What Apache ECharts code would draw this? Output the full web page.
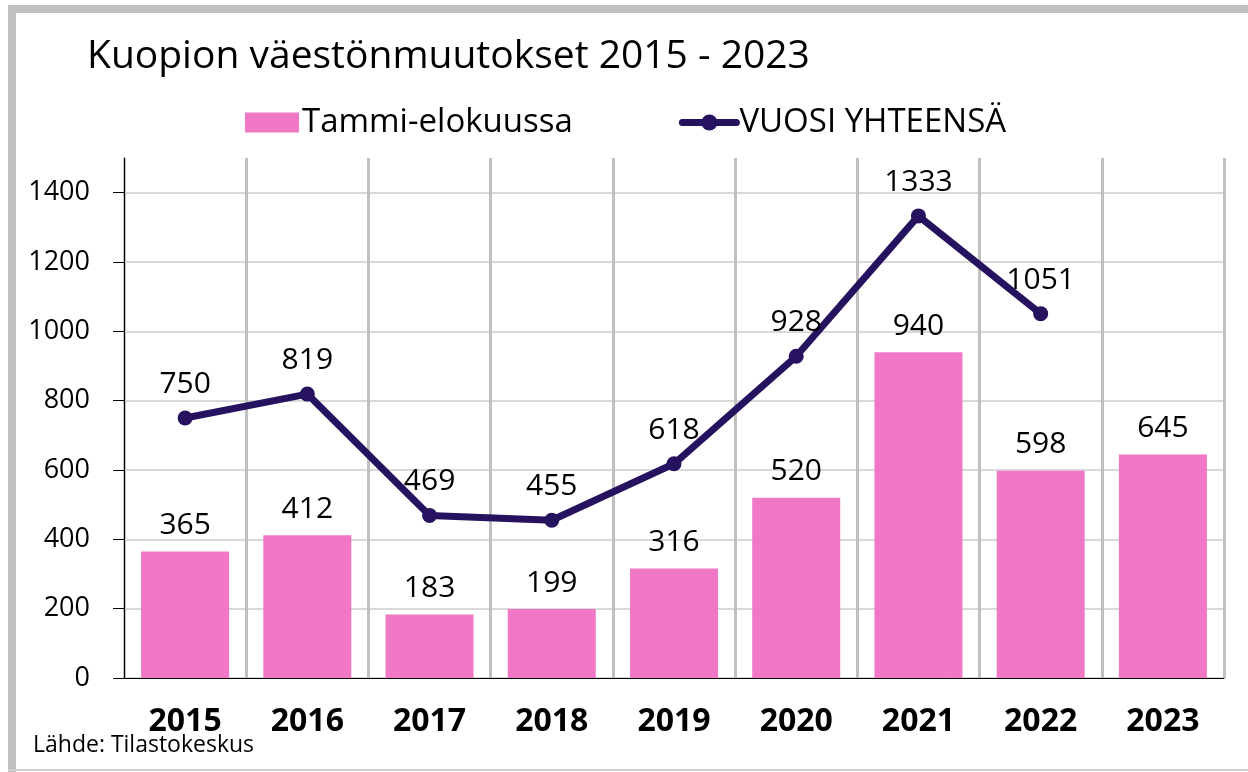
<!DOCTYPE html>
<html>
<head>
<meta charset="utf-8">
<title>Kuopion väestönmuutokset 2015 - 2023</title>
<script src="https://cdn.jsdelivr.net/npm/echarts@6/dist/echarts.min.js"></script>
<style>
  html, body { margin: 0; padding: 0; background: #fff; }
  #chart { width: 1248px; height: 772px; }
</style>
</head>
<body>
<div id="chart"></div>
<script>
// data
const years = ['2015', '2016', '2017', '2018', '2019', '2020', '2021', '2022', '2023'];
const tammiElokuu = [365, 412, 183, 199, 316, 520, 940, 598, 645];
const vuosiYhteensa = [750, 819, 469, 455, 618, 928, 1333, 1051, null];
const yTicks = [0, 200, 400, 600, 800, 1000, 1200, 1400];

const font = '"Open Sans", "Noto Sans", sans-serif';
const pink = '#f178c6';
const purple = '#26125f';

var chart = echarts.init(document.getElementById('chart'));

const option = {
  animation: false,
  textStyle: { fontFamily: font, color: '#000' },
  title: {
    text: 'Kuopion väestönmuutokset 2015 - 2023',
    left: 82,
    top: 32,
    textStyle: { fontFamily: font, fontSize: 39, fontWeight: 'normal', color: '#000' }
  },
  legend: {
    left: 240,
    top: 101,
    itemWidth: 54,
    itemHeight: 20,
    itemGap: 106,
    textStyle: { fontFamily: font, fontSize: 33, color: '#000', padding: [0, 0, 0, -2] },
    data: [
      { name: 'Tammi-elokuussa', icon: 'rect' },
      { name: 'VUOSI YHTEENSÄ', lineStyle: { width: 7, cap: 'round', color: purple } }
    ]
  },
  grid: { left: 124, right: 24, top: 158, bottom: 94 },
  xAxis: {
    type: 'category',
    data: years,
    axisLine: { lineStyle: { color: '#000', width: 1 } },
    axisTick: { show: false },
    splitLine: { show: true, lineStyle: { color: '#c0c0c0', width: 3 } },
    axisLabel: { fontFamily: font, fontSize: 32, fontWeight: 'bold', color: '#000', margin: 28 }
  },
  yAxis: {
    type: 'value',
    min: yTicks[0],
    max: 1500,
    interval: 200,
    axisLine: { show: true, lineStyle: { color: '#000', width: 1 } },
    axisTick: { show: true, length: 11, lineStyle: { color: '#000' } },
    axisLabel: {
      fontFamily: font, fontSize: 27, color: '#000', margin: 34, showMaxLabel: false,
      formatter: function (v) { return yTicks.indexOf(v) >= 0 ? String(v) : ''; }
    },
    splitLine: { show: true, showMaxLine: false, lineStyle: { color: '#d9d9d9', width: 2 } }
  },
  graphic: [
    { type: 'rect', shape: { x: 8, y: 5, width: 1240, height: 8 }, style: { fill: '#c0c0c0' }, silent: true },
    { type: 'rect', shape: { x: 8, y: 5, width: 8, height: 767 }, style: { fill: '#c0c0c0' }, silent: true },
    { type: 'rect', shape: { x: 8, y: 769, width: 1240, height: 2 }, style: { fill: '#d0d0d0' }, silent: true },
    { type: 'rect', shape: { x: 113, y: 155, width: 10, height: 6 }, style: { fill: '#fff' }, silent: true, z: 100 },
    {
      type: 'text', left: 33, top: 734,
      style: { text: 'Lähde: Tilastokeskus', fontFamily: font, fontSize: 23, fill: '#000' }
    }
  ],
  series: [
    {
      name: 'Tammi-elokuussa',
      type: 'bar',
      data: tammiElokuu,
      barCategoryGap: '28%',
      itemStyle: { color: pink },
      label: { show: true, position: 'top', distance: 11, fontFamily: font, fontSize: 30, color: '#000' }
    },
    {
      name: 'VUOSI YHTEENSÄ',
      type: 'line',
      data: vuosiYhteensa,
      symbol: 'circle',
      symbolSize: 15,
      connectNulls: false,
      lineStyle: { color: purple, width: 7 },
      itemStyle: { color: purple },
      label: { show: true, position: 'top', distance: 11, fontFamily: font, fontSize: 30, color: '#000' }
    }
  ]
};

chart.setOption(option);
</script>
</body>
</html>
